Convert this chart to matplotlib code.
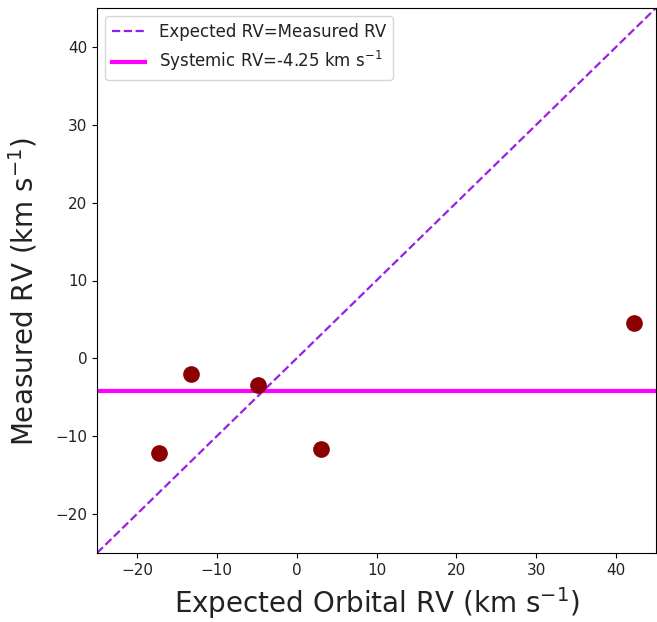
import matplotlib
matplotlib.use("Agg")
import matplotlib.pyplot as plt
import numpy as np

expected_rv = [-17.2, -13.2, -4.9, 3.1, 42.3]
measured_rv = [-12.1, -2.0, -3.4, -11.7, 4.5]
measured_err = [0.4, 0.4, 0.4, 0.4, 0.8]
systemic_rv = -4.25
lims = [-25, 45]

plt.rcParams['text.color'] = '#222222'
plt.rcParams['axes.labelcolor'] = '#222222'
plt.rcParams['xtick.labelcolor'] = '#222222'
plt.rcParams['ytick.labelcolor'] = '#222222'

fig = plt.figure(figsize=(6.57, 6.22), dpi=100)
ax = fig.add_axes([97/657, 69/622, 559/657, 545/622])

ax.plot(lims, lims, linestyle='--', color='#9b1ee6', lw=1.6, label='Expected RV=Measured RV')
ax.axhline(systemic_rv, color='#ff00ff', lw=3, label=r'Systemic RV=-4.25 km s$^{-1}$')
ax.errorbar(expected_rv, measured_rv, yerr=measured_err, fmt='o', color='darkred',
            markersize=11, elinewidth=2)

ax.set_xlim(lims)
ax.set_ylim(lims)
ax.set_xticks([-20, -10, 0, 10, 20, 30, 40])
ax.set_yticks([-20, -10, 0, 10, 20, 30, 40])
ax.tick_params(labelsize=11)
ax.set_xlabel(r'Expected Orbital RV (km s$^{-1}$)', fontsize=20, labelpad=5)
ax.set_ylabel(r'Measured RV (km s$^{-1}$)', fontsize=20)
ax.yaxis.set_label_coords(-0.102, 0.48)
ax.legend(loc='upper left', fontsize=12)

fig.savefig('out.png', dpi=100)
